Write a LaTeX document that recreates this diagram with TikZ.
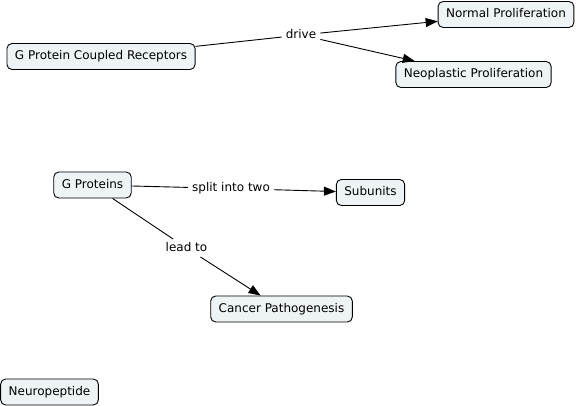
\documentclass[tikz,border=0pt]{standalone}
\usepackage{fontspec}
\setmainfont{DejaVu Sans}
\usetikzlibrary{arrows.meta}
\definecolor{boxfill}{HTML}{EEF3F6}
\tikzset{
  concept/.style={draw=black, fill=boxfill, rounded corners=5pt, line width=0.9pt,
    font=\fontsize{12}{14}\selectfont, inner xsep=8pt, minimum height=26pt, text height=9pt, text depth=2.5pt},
  linkword/.style={font=\fontsize{12}{14}\selectfont, inner xsep=4pt, inner ysep=3pt, text height=9pt, text depth=2.5pt},
  conn/.style={line width=0.9pt},
  arr/.style={conn, -{Triangle[length=12pt,width=9pt]}}
}
\begin{document}
\begin{tikzpicture}[x=1pt,y=-1pt]
\useasboundingbox (0,0) rectangle (577,406);
\node[concept] (gpcr) at (101,56.5) {G Protein Coupled Receptors};
\node[concept] (normal) at (506,14.5) {Normal Proliferation};
\node[concept] (neo) at (473.5,74.5) {Neoplastic Proliferation};
\node[linkword] (drive) at (301,35) {drive};
\node[concept] (gp) at (92.5,185) {G Proteins};
\node[concept] (sub) at (370.5,192.5) {Subunits};
\node[linkword] (split) at (231,188.5) {split into two};
\node[linkword] (lead) at (186.5,248) {lead to};
\node[concept] (cancer) at (281.5,309) {Cancer Pathogenesis};
\node[concept] (neuro) at (49.5,392) {Neuropeptide};
\draw[conn] (gpcr) -- (drive);
\draw[arr] (drive) -- (normal);
\draw[arr] (drive) -- (neo);
\draw[conn] (gp) -- (split);
\draw[arr] (split) -- (sub);
\draw[conn] (gp) -- (lead);
\draw[arr] (lead) -- (cancer);
\end{tikzpicture}
\end{document}
